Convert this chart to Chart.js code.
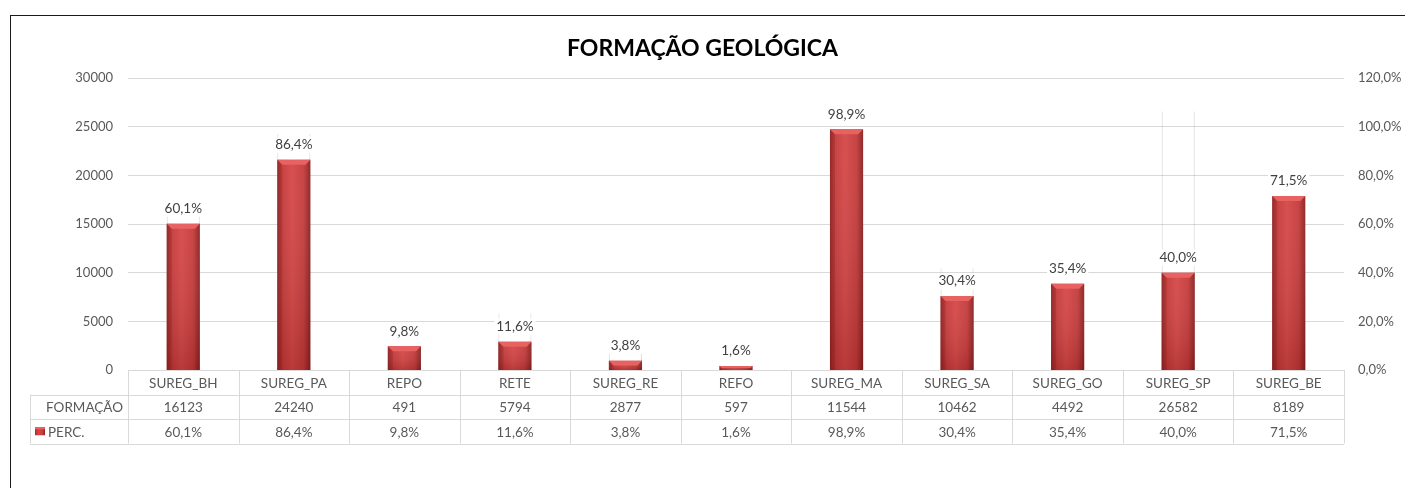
<!DOCTYPE html>
<html><head><meta charset="utf-8">
<script src="https://cdn.jsdelivr.net/npm/chart.js@4.4.1/dist/chart.umd.min.js"></script>
<style>
html,body{margin:0;padding:0;background:#fff;overflow:hidden;}
#frame{position:absolute;left:10px;top:15px;width:1420px;height:500px;border:1px solid #1a1a1a;box-sizing:border-box;}
#wrap{position:absolute;left:0;top:0;width:1405px;height:488px;}
</style></head><body>
<div id="frame"></div>
<div id="wrap"><canvas id="c"></canvas></div>
<script>
const chartTitle = 'FORMAÇÃO GEOLÓGICA';
const categories = ['SUREG_BH','SUREG_PA','REPO','RETE','SUREG_RE','REFO','SUREG_MA','SUREG_SA','SUREG_GO','SUREG_SP','SUREG_BE'];
const formacao = [16123,24240,491,5794,2877,597,11544,10462,4492,26582,8189];
const perc = [0.601,0.864,0.098,0.116,0.038,0.016,0.989,0.304,0.354,0.400,0.715];
const seriesNames = ['FORMAÇÃO','PERC.'];
const leftAxis = {min:0, max:30000, step:5000};
const rightAxis = {min:0, max:1.2, step:0.2};

const FONT = 'Lato';
const TXT = '#595959';
const fmtPct = v => (v*100).toFixed(1).replace('.', ',') + '%';

function barGradient(c, x0, x1) {
  const g = c.createLinearGradient(x0, 0, x1, 0);
  g.addColorStop(0, '#9a2626');
  g.addColorStop(0.12, '#c23838');
  g.addColorStop(0.45, '#d64646');
  g.addColorStop(0.8, '#c43a3a');
  g.addColorStop(1, '#8a1f1f');
  return g;
}

const barFx = {
  id: 'barFx',
  afterDatasetsDraw(chart) {
    const c = chart.ctx;
    const meta = chart.getDatasetMeta(1);
    c.save();
    meta.data.forEach((el, i) => {
      const p = el.getProps(['x','y','base','width'], true);
      const l = p.x - p.width/2, r = p.x + p.width/2;
      const h = p.base - p.y;
      const vg = c.createLinearGradient(0, p.y, 0, p.base);
      vg.addColorStop(0, 'rgba(255,255,255,0.05)');
      vg.addColorStop(1, 'rgba(60,0,0,0.18)');
      c.fillStyle = vg;
      c.fillRect(l, p.y, p.width, h);
      const b = Math.min(5, h/2);
      c.beginPath();
      c.moveTo(l, p.y); c.lineTo(r, p.y); c.lineTo(r - b, p.y + b); c.lineTo(l + b, p.y + b); c.closePath();
      c.fillStyle = '#e86262';
      c.fill();
      c.beginPath();
      c.moveTo(l, p.y); c.lineTo(l + b, p.y + b); c.lineTo(l + b, p.base); c.lineTo(l, p.base); c.closePath();
      c.fillStyle = 'rgba(120,20,20,0.25)';
      c.fill();
      const t = fmtPct(perc[i]);
      c.font = '13.5px ' + FONT;
      const tw = c.measureText(t).width;
      const cy = p.y - 15;
      c.fillStyle = '#fff';
      c.fillRect(p.x - tw/2 - 2, cy - 8, tw + 4, 16);
      c.fillStyle = '#404040';
      c.textAlign = 'center';
      c.textBaseline = 'middle';
      c.fillText(t, p.x, cy);
    });
    c.restore();
  }
};

const dataTable = {
  id: 'dataTable',
  afterDraw(chart) {
    const c = chart.ctx;
    const xs = chart.scales.x;
    const ca = chart.chartArea;
    const n = categories.length;
    const cw = (ca.right - ca.left) / n;
    const top = ca.bottom;
    const rh = 24.5;
    const hdrL = 30;
    c.save();
    c.strokeStyle = '#d9d9d9';
    c.lineWidth = 1;
    c.beginPath();
    const hl = (x0, x1, y) => { y = Math.round(y) + 0.5; c.moveTo(x0, y); c.lineTo(x1, y); };
    const vl = (x, y0, y1) => { x = Math.round(x) + 0.5; c.moveTo(x, y0); c.lineTo(x, y1); };
    hl(ca.left, ca.right, top);
    for (let r = 1; r <= 3; r++) hl(hdrL, ca.right, top + r*rh);
    for (let i = 0; i <= n; i++) vl(ca.left + i*cw, top, top + 3*rh);
    vl(hdrL, top + rh, top + 3*rh);
    c.stroke();
    c.font = '13.5px ' + FONT;
    c.fillStyle = TXT;
    c.textBaseline = 'middle';
    c.textAlign = 'center';
    categories.forEach((cat, i) => {
      const x = xs.getPixelForValue(i);
      c.fillText(cat, x, top + rh*0.5 + 1);
      c.fillText(String(formacao[i]), x, top + rh*1.5 + 1);
      c.fillText(fmtPct(perc[i]), x, top + rh*2.5 + 1);
    });
    c.textAlign = 'right';
    c.fillText(seriesNames[0], ca.left - 5, top + rh*1.5 + 1);
    c.textAlign = 'left';
    c.fillText(seriesNames[1], 48, top + rh*2.5 + 1);
    const sy = top + rh*2.5 - 4;
    c.fillStyle = barGradient(c, 35, 45);
    c.fillRect(35, sy, 10, 8);
    c.fillStyle = '#e86262';
    c.fillRect(35, sy, 10, 2);
    c.restore();
  }
};

new Chart(document.getElementById('c'), {
  type: 'bar',
  data: {
    labels: categories,
    datasets: [
      {
        label: seriesNames[0],
        data: formacao,
        yAxisID: 'y',
        grouped: false,
        order: 2,
        backgroundColor: 'rgba(0,0,0,0)',
        borderColor: 'rgba(0,0,0,0.13)',
        borderWidth: {left: 1, right: 1, top: 0, bottom: 0},
        borderSkipped: 'bottom',
        barPercentage: 0.3,
        categoryPercentage: 1
      },
      {
        label: seriesNames[1],
        data: perc,
        yAxisID: 'y1',
        grouped: false,
        order: 1,
        backgroundColor: (ctx) => {
          const ch = ctx.chart;
          if (!ch.chartArea || ctx.dataIndex === undefined) return '#c83c3c';
          const xs = ch.scales.x;
          const cx = xs.getPixelForValue(ctx.dataIndex);
          const w = (ch.chartArea.right - ch.chartArea.left) / categories.length * 0.3;
          return barGradient(ch.ctx, cx - w/2, cx + w/2);
        },
        borderWidth: 0,
        barPercentage: 0.3,
        categoryPercentage: 1
      }
    ]
  },
  options: {
    responsive: true,
    maintainAspectRatio: false,
    animation: false,
    events: [],
    layout: {padding: {left: 0, right: 0, top: 0, bottom: 118}},
    plugins: {
      legend: {display: false},
      tooltip: {enabled: false},
      title: {
        display: true,
        text: chartTitle,
        color: '#000',
        font: {family: FONT, size: 23, weight: 'bold'},
        padding: {top: 35, bottom: 15.4}
      }
    },
    scales: {
      x: {display: false, offset: true},
      y: {
        position: 'left',
        min: leftAxis.min, max: leftAxis.max,
        afterFit(s) { s.width = 128; },
        ticks: {stepSize: leftAxis.step, padding: 15, color: TXT, font: {family: FONT, size: 13},
          callback: v => String(v)},
        grid: {color: '#d9d9d9', drawTicks: false},
        border: {display: false}
      },
      y1: {
        position: 'right',
        min: rightAxis.min, max: rightAxis.max,
        afterFit(s) { s.width = 61; },
        ticks: {stepSize: rightAxis.step, padding: 14, color: TXT, font: {family: FONT, size: 13},
          callback: v => fmtPct(v)},
        grid: {display: false, drawTicks: false},
        border: {display: false}
      }
    }
  },
  plugins: [barFx, dataTable]
});
</script>
</body></html>
